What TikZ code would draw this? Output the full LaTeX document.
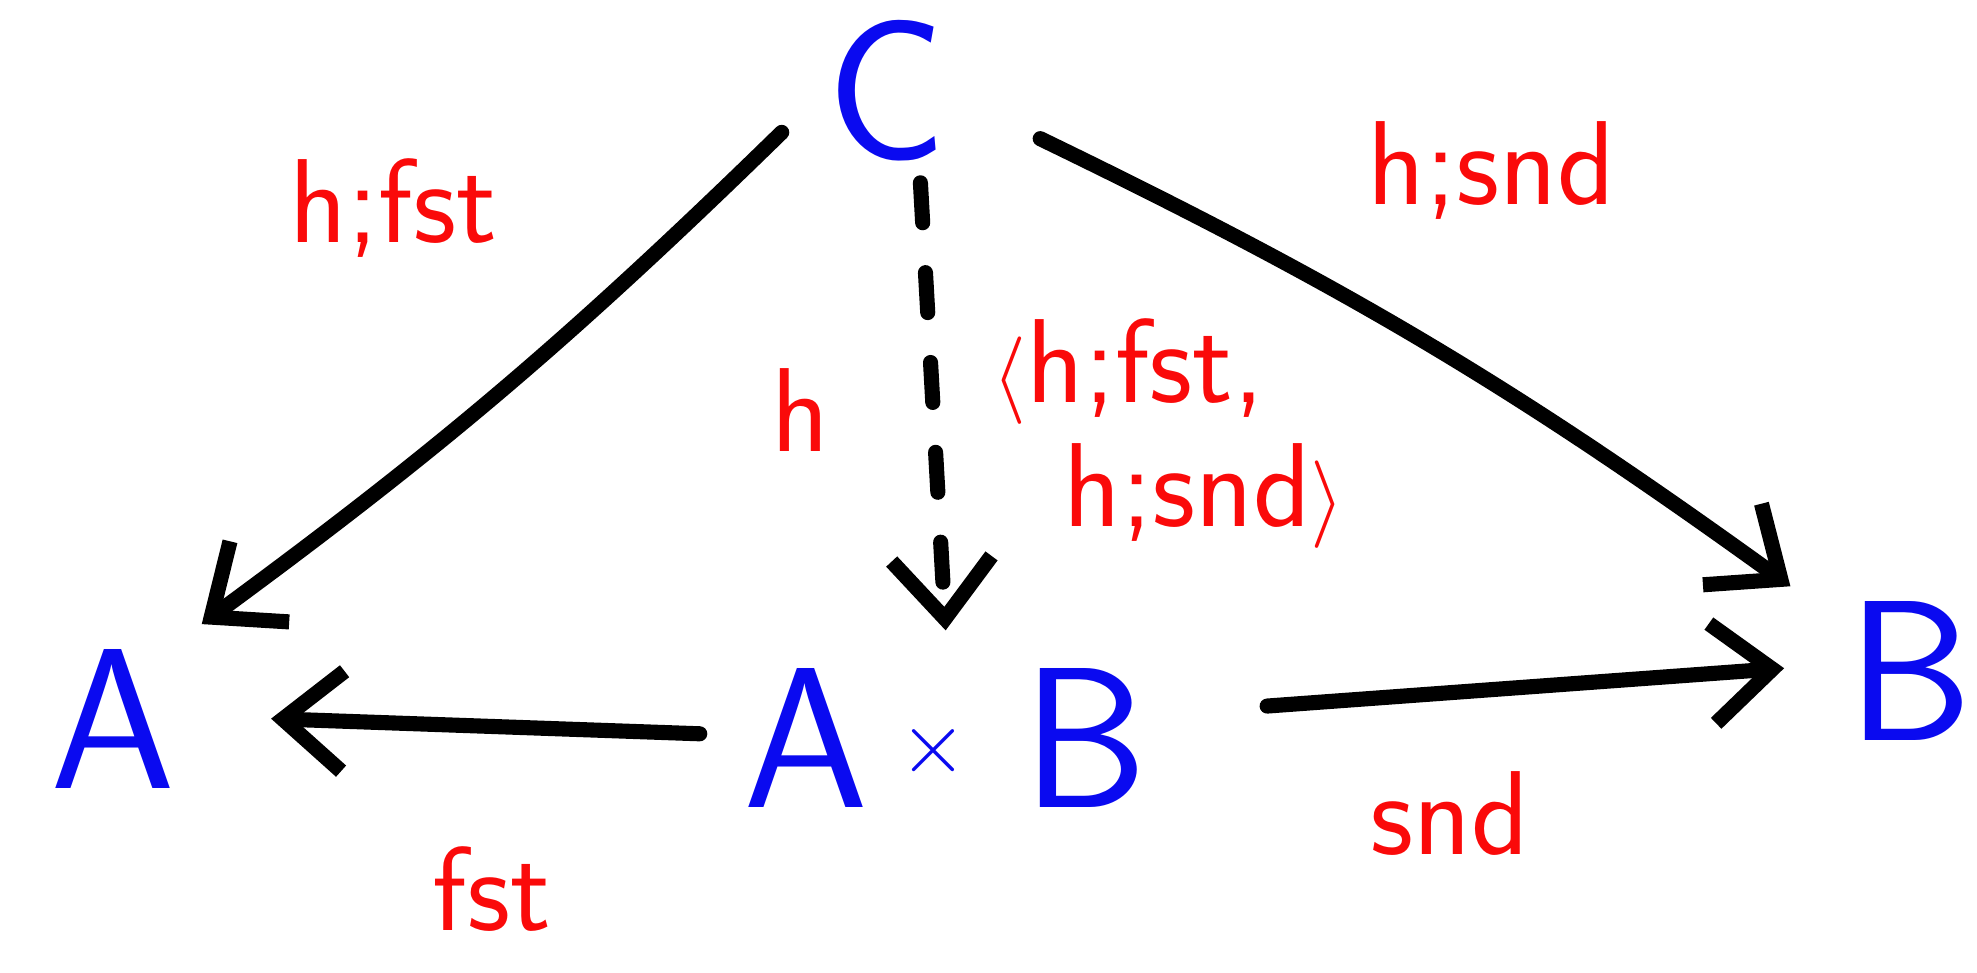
\documentclass[tikz,border=0pt]{standalone}
\usepackage{tikz}
\usetikzlibrary{arrows.meta}
\usetikzlibrary{positioning}
\definecolor{inkred}{RGB}{250,10,10}
\definecolor{inkblue}{RGB}{10,10,240}
\begin{document}
\begin{tikzpicture}[x=1.261cm,y=1.261cm,
obj/.style={text=inkblue,font=\sffamily\fontsize{57}{60}\selectfont,inner sep=0pt},
lbl/.style={text=inkred,font=\sffamily\fontsize{34}{40}\selectfont,inner sep=0pt,align=left},
arr/.style={line width=4.3pt,line cap=round,-{Straight Barb[length=6mm,width=10mm,line width=4.3pt]}},
dsh/.style={dash pattern=on 4mm off 5mm}]
\useasboundingbox (0,0) rectangle (15.68,7.71);
\node[obj] (C) at (7.03,6.99) {C};
\node[obj] (A) at (0.90,2.01) {A};
\node[obj] (AB) at (7.50,1.86) {A\hspace{0.3cm}\raisebox{0.35cm}{\fontsize{34}{34}\selectfont$\times$}\hspace{0.55cm}B};
\node[obj] (B) at (15.15,2.39) {B};
\node[lbl] (hfst) at (3.12,6.06) {h;fst};
\node[lbl] (hsnd) at (11.83,6.36) {h;snd};
\node[lbl] (h) at (6.35,4.46) {h};
\node[lbl] (pair1) at (8.95,4.76) {$\langle$h;fst,};
\node[lbl] (pair2) at (9.55,3.78) {h;snd$\rangle$};
\node[lbl] (fst) at (3.90,0.66) {fst};
\node[lbl] (snd) at (11.50,1.26) {snd};
\draw[arr] ([shift={(-0.83,-0.33)}]C.center) to[bend left=4] ([shift={(0.70,0.75)}]A.center);
\draw[arr,dsh] ([shift={(0.27,-0.73)}]C.center) -- ([shift={(0,0.85)}]AB.center);
\draw[arr] ([shift={(1.22,-0.38)}]C.center) to[bend left=5] ([shift={(-0.95,0.67)}]B.center);
\draw[arr] ([shift={(-1.95,0.03)}]AB.center) -- ([shift={(1.25,0)}]A.center);
\draw[arr] ([shift={(2.55,0.25)}]AB.center) -- ([shift={(-1.00,0.02)}]B.center);
\end{tikzpicture}
\end{document}
